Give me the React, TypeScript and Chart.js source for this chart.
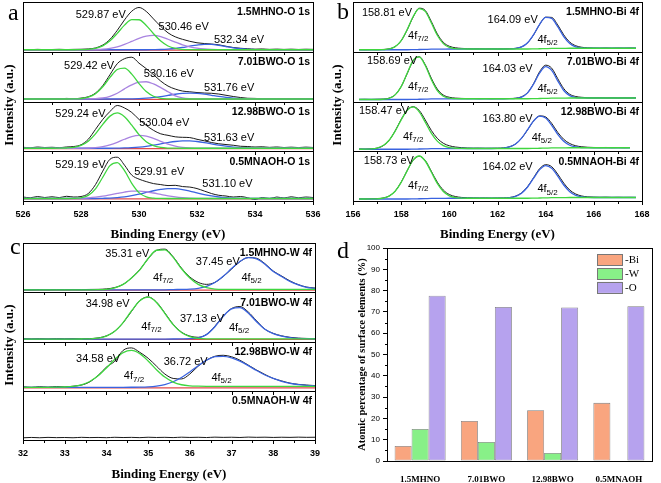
import React, { useEffect, useRef } from "react";
import { Chart, registerables } from "chart.js";

Chart.register(...registerables);

const SANS = "'Liberation Sans', Arial, Helvetica, sans-serif";
const SERIF = "'Liberation Serif', 'Times New Roman', Times, serif";

// ================= Panel a : O 1s =================
const aEnergy = [526,526.25,526.5,526.75,527,527.25,527.5,527.75,528,528.25,528.5,528.75,529,529.25,529.5,529.75,530,530.25,530.5,530.75,531,531.25,531.5,531.75,532,532.25,532.5,532.75,533,533.25,533.5,533.75,534,534.25,534.5,534.75,535,535.25,535.5,535.75,536];
const aBaseEnergy = [526, 536];
const aPeaks = [[529.87, 530.46, 532.34], [529.42, 530.16, 531.76], [529.24, 530.04, 531.63], [529.19, 529.91, 531.10]];

const aMhnoRaw = [4.6,4.2,4.8,4.3,4.5,4.9,4.4,4.8,5,5.6,7.6,13.5,25,43,64,81.5,89,81,66,51,38,30,25,21,18,16.5,15.5,14,11,8.5,7,6,5.2,5.6,4.8,5.3,4.7,5.2,4.6,5.1,4.8];
const aMhnoG = [4,4,4,4,4,4,4,4,4.2,4.8,6.9,11.9,21.9,37,53.5,64.6,64.3,52.9,36.3,21.4,11.6,6.7,4.8,4.2,4,4,4,4,4,4,4,4,4,4,4,4,4,4,4,4,4];
const aMhnoP = [4,4,4,4,4,4,4,4,4,4.2,4.5,5.2,6.9,9.9,14.7,20.8,27.1,31.6,33,30.5,25.1,19.5,14,10,7.2,5.5,4.6,4.2,4,4,4,4,4,4,4,4,4,4,4,4,4];
const aMhnoB = [4,4,4,4,4,4,4,4,4,4,4,4,4,4,4,4,4,4,4.2,4.5,5.2,6.5,8.6,11.2,13.5,14.9,14.7,12.9,10.4,8,6.1,4.9,4.4,4.1,4,4,4,4,4,4,4];
const aMhnoBase = [3.3, 3.3];

const a701Raw = [5.5,5,6,5.2,5.8,5.4,6.2,5.6,6.8,9.5,17,32,54,76,86,89,77,66,54,41,31,25,21,19.5,18,17,16.5,15,12.5,10,8,6.5,6.2,5.5,6,5.3,5.9,5.2,5.8,5.4,5.7];
const a701G = [5,5,5,5,5,5,5,5.2,5.9,8.6,15.7,29.6,48.5,64.3,67.2,55.1,36.1,19.9,10.5,6.5,5.3,5,5,5,5,5,5,5,5,5,5,5,5,5,5,5,5,5,5,5,5];
const a701P = [5,5,5,5,5,5,5,5,5.1,5.4,5.8,7.2,10.5,16.5,25.5,33.5,38.9,39.7,35.3,27.8,19.7,11.5,7.5,5.8,5.2,5,5,5,5,5,5,5,5,5,5,5,5,5,5,5,5];
const a701B = [5,5,5,5,5,5,5,5,5,5,5,5,5,5,5.2,5.4,5.8,6.7,8.1,10,12.3,14.6,16.3,17,16.4,14.8,12.5,10.2,8.2,6.8,5.9,5.4,5.2,5,5,5,5,5,5,5,5];
const a701Base = [4.2, 4.2];

const a1298Raw = [8,7,8.5,7.5,8,7.2,8.6,9.5,13,24,44,64,80,92,87,78,64,52,42,35,32,29,28,27.5,24,21,17.5,15,13.5,12,10,9.5,8.5,9,7.8,8.6,7.5,8.2,7.4,8.3,7.6];
const a1298G = [6,6,6,6,6,6.1,6.5,7.9,11.7,20.2,34.9,53.9,70.6,77,69.5,52.4,33.5,19.3,11.3,7.7,6.4,6.1,6,6,6,6,6,6,6,6,6,6,6,6,6,6,6,6,6,6,6];
const a1298P = [6,6,6,6,6,6,6,6,6.2,6.5,7.4,9.3,12.9,18,24.1,29.5,31.9,30.6,26,20,14.3,10.3,7.9,6.7,6.3,6,6,6,6,6,6,6,6,6,6,6,6,6,6,6,6];
const a1298B = [6,6,6,6,6,6,6,6,6,6,6,6,6,6.3,6.6,7.3,8.4,10,12.2,14.8,17.4,19.6,20.8,20.9,19.6,17.5,14.9,12.3,10.1,8.4,7.3,6.7,6.3,6.1,6,6,6,6,6,6,6];
const a1298Base = [5.2, 5.2];

const a05Raw = [8,6.5,9,7,8.5,6.8,9.5,8,9,15,33,60,84,88,72,52,44,39,35,33,31,31.5,29,28,25,20,15,11.5,10,8,9,6.5,3,7,5,8,6,8.5,6.5,8,7];
const a05G = [5,5,5,5,5,5,5,5.2,6.4,11.3,24.5,47.7,71.1,77.3,60.9,35.6,16.8,8.2,5.6,5.1,5,5,5,5,5,5,5,5,5,5,5,5,5,5,5,5,5,5,5,5,5];
const a05P = [5,5,5,5,5,5,5,5.3,5.7,6.4,7.7,9.7,12.4,15.3,18,19.7,19.9,18.6,16.1,13.2,10.4,8.2,6.7,5.8,5.4,5.2,5,5,5,5,5,5,5,5,5,5,5,5,5,5,5];
const a05B = [5,5,5,5,5,5,5,5,5,5,5,5.4,5.9,6.9,8.4,10.7,13.6,17.1,20.6,23.4,24.9,24.7,22.9,19.9,16.4,13,10.1,8,6.6,5.8,5.4,5.2,5,5,5,5,5,5,5,5,5];
const a05Base = [4.2, 4.2];

// ================= Panel b : Bi 4f =================
const bEnergy = [156.25,156.5,156.75,157,157.25,157.5,157.75,158,158.25,158.5,158.75,159,159.25,159.5,159.75,160,160.25,160.5,160.75,161,161.25,161.5,161.75,162,162.25,162.5,162.75,163,163.25,163.5,163.75,164,164.25,164.5,164.75,165,165.25,165.5,165.75,166,166.25,166.5,166.75,167,167.25,167.5,167.75];
const bPeaks = [[158.81, 164.09], [158.69, 164.03], [158.47, 163.80], [158.73, 164.02]];

const bMhnoRaw = [4.3,4.1,4.4,4.2,4.6,5.8,10.5,22,44,70,87.5,83,61,36,19,11,8,6.8,6.2,5.9,6,5.7,5.9,5.6,5.8,6,6.8,9.8,18,34,55,69.5,69,54,34,19.5,12,9,7.8,7.4,7.2,7.5,7.1,7.4,7.2,7.5,7.3];
const bMhnoG = [4,4,4,4,4.3,5.6,10.3,22.5,44.5,70.8,86.8,81.2,58.4,33.2,16.4,8.7,6.2,5.6,5.5,5.5,5.5,5.5,5.5,5.5,5.5,5.5,5.5,5.5,5.5,5.7,6,6.3,6.6,6.8,6.9,7,7,7,7,7,7,7,7,7,7,7,7];
const bMhnoB = [4,4,4,4,4,4,4,4,4,4.2,4.5,4.8,5.1,5.3,5.4,5.5,5.5,5.5,5.5,5.5,5.5,5.5,5.5,5.5,5.5,5.7,6.5,9.7,18.2,34.5,55.1,69.1,67,50.3,30.5,16.6,9.9,7.7,7.1,7,7,7,7,7,7,7,7];

const b701Raw = [4.2,4.4,4.1,4.5,4.8,6.8,13.5,30,56,82,90,74,47,25,13,8.5,6.8,6.2,5.9,6,5.7,5.9,5.6,5.8,5.7,6,6.6,9.5,18,36,60,73,67,46,26,14.5,10,8.4,7.6,7.3,7.5,7.2,7.4,7.1,7.3,7.2,7.4];
const b701G = [4,4,4,4,4.5,6.5,13.3,30,56.8,82.7,89.7,72.3,44.2,21.8,10.5,6.6,5.7,5.5,5.5,5.5,5.5,5.5,5.5,5.5,5.5,5.5,5.5,5.5,5.5,5.7,6,6.3,6.6,6.8,6.9,7,7,7,7,7,7,7,7,7,7,7,7];
const b701B = [4,4,4,4,4,4,4,4,4,4.2,4.5,4.8,5.1,5.3,5.4,5.5,5.5,5.5,5.5,5.5,5.5,5.5,5.5,5.5,5.5,5.6,6.2,8.9,17.3,35.1,57.5,70.2,62.5,41.5,22.1,11.7,8,7.1,7,7,7,7,7,7,7,7,7];

const b1298Raw = [4.5,4.3,4.8,6.3,11,22,41,64,83,89.5,82,63,42,26,16,11,8.5,7.2,6.5,6.2,6.3,6,6.1,6.2,6.8,9,14.5,26,43,61,71,69,56,38,24,15.5,11,9,8,7.6,7.4,7.6,7.3,7.5,7.2,7.4,null];
const b1298G = [4,4.1,4.7,6.5,11.4,22.1,40.3,63.1,82.5,89.1,79.3,58.4,36.5,20.3,11.2,7.3,6,5.6,5.5,5.5,5.5,5.5,5.5,5.5,5.5,5.5,5.5,5.5,5.5,5.7,6,6.3,6.6,6.8,6.9,7,7,7,7,7,7,7,7,7,7,7,null];
const b1298B = [4,4,4,4,4,4,4,4,4,4.2,4.5,4.8,5.1,5.3,5.4,5.5,5.5,5.5,5.5,5.5,5.5,5.5,5.5,5.7,6.4,8.8,14.7,26.4,43.5,61.1,70.7,66.9,52,34,20,12.1,8.6,7.4,7.1,7,7,7,7,7,7,7,null];

const b05Raw = [4.4,4.2,4.5,4.6,6,10,20,38,61,82,90,81.5,60,38,22,13,9,7.2,6.5,6.2,6,6.1,5.8,6,6.2,7,9.8,16.5,29,47,65,73,69,54,36,22,14,10,8.3,7.8,7.5,7.7,7.3,7.5,7.3,7.4,7.2];
const b05G = [4,4,4.1,4.4,5.8,9.9,19.7,37.5,61.1,82.5,90.5,80.4,58.3,35.3,19,10.4,6.9,5.8,5.5,5.5,5.5,5.5,5.5,5.5,5.5,5.5,5.5,5.5,5.5,5.7,6,6.3,6.6,6.8,6.9,7,7,7,7,7,7,7,7,7,7,7,7];
const b05B = [4,4,4,4,4,4,4,4,4,4.2,4.5,4.8,5.1,5.3,5.4,5.5,5.5,5.5,5.5,5.5,5.5,5.5,5.5,5.5,5.8,6.6,9.2,15.8,28.2,45.9,63.1,71.3,65.8,50,32.2,18.8,11.4,8.3,7.3,7,7,7,7,7,7,7,7];

// ================= Panel c : W 4f =================
const cEnergy = [32,32.2,32.4,32.6,32.8,33,33.2,33.4,33.6,33.8,34,34.2,34.4,34.6,34.8,35,35.2,35.4,35.6,35.8,36,36.2,36.4,36.6,36.8,37,37.2,37.4,37.6,37.8,38,38.2,38.4,38.6,38.8,39];
const cBaseEnergy = [32, 39];
const cPeaks = [[35.31, 37.45], [34.98, 37.13], [34.58, 36.72]];

const cMhnoRaw = [5.3,5.1,5.4,5.2,5.5,5.3,5.6,5.4,5.7,5.9,6.8,9.5,16,29,46,68,85,87.5,72,49,31,20,16,20,32,47,62,70.5,69,58,43,33,23,15.5,10.5,8.5];
const cMhnoG = [5,5,5,5,5,5,5,5,5,5.15,5.7,9,16,29,45.3,68.6,85.3,86.2,70.7,47.7,29,16,9.5,6.5,5.8,6,6,6,6,6,6,6,6,6,6,6];
const cMhnoB = [5,5,5,5,5,5,5,5,5,5,5,5,5,5,5,5,5,5,5.5,5.7,6.3,8,12,19.8,32.4,48,62.5,70.3,67.8,57,42,32,22,15,10,8];
const cMhnoBase = [4.3, 4.3];

const c701Raw = [5.6,5.2,5.5,5.1,5.6,5.3,5.5,5.4,5.9,7.2,11.5,21,38,61,83,90.5,80,58,35,19,11,8.5,14.5,31,52,67,71,60,42,25,16.5,11.5,8.5,6.8,6.2,5.8];
const c701G = [5,5,5,5,5,5,5,5.1,5.4,6.8,10.9,20.7,38.4,62,82.7,90,79.3,57.1,34.3,18.2,9.8,6.4,5.4,5.5,5.5,5.5,5.5,5.5,5.5,5.5,5.5,5.5,5.5,5.5,5.5,5.5];
const c701B = [5,5,5,5,5,5,5,5,5,5,5,5,5,5,5,5,5,5,5.1,5.3,5.8,7.5,14,30,51,66.1,68.6,57.8,40.2,25,16,11,8,6.5,5.8,5.5];
const c701Base = [4.3, 4.3];

const c1298Raw = [8,7,8.2,7.4,8.5,7.8,9.2,11.5,18,31,48,60,82,87,78,66,50,34,25,24,34,50,62,70,72,69,62,52,42,33,25,20,15.5,13,11.5,10.5];
const c1298G = [7,7,7,7,7.2,7.6,8.9,12.1,18.8,30.3,46.3,63.8,77.5,82,75.3,60.4,42.8,27.8,17.6,12.2,10,9.3,9,9,9,9,9,9,9,9,9,9,9,9,9,9];
const c1298B = [7,7,7,7,7,7,7,7,7,7,7,7,7,7.1,7.3,7.9,9.4,12.5,18.3,26.9,38.2,50.8,62.1,69.3,70,67,60,51,41,32,25,19,15,12.5,11,10];
const c1298Base = [6, 6];

const c05Raw = [4.5,5.2,4.6,5.3,4.8,5.1,4.6,5.4,4.9,5.2,4.7,5.5,5,5.3,4.8,5.6,5.1,5.4,4.9,5.7,5.2,5.5,5,5.8,5.3,5.6,5.1,5.9,5.4,5.7,5.2,5.6,5.3,5.8,5.4,5.6];

// ================= Panel d : surface composition =================
const dCategories = ["1.5MHNO", "7.01BWO", "12.98BWO", "0.5MNAOH"];
const dBi = [7.1, 18.8, 23.8, 27.3];
const dW = [15.0, 8.9, 3.8, 0];
const dO = [77.6, 72.3, 72.1, 72.7];

// ---------------- styles ----------------
const BLACK = "#1a1a1a";
const GREEN = "#3fd63f";
const PURPLE = "#a883e0";
const BLUE = "#3a63e0";
const RED = "#e04a4a";

type Line = { xs: number[]; ys: (number | null)[]; color: string; width: number; order: number };
type Sub = {
  id: string;
  title: string;
  lines: Line[];
  peaks: number[];
  peakPos: number[][];
  orbs?: string[];
  orbPos?: number[][];
};
type Panel = {
  letter: string;
  letterPos: [number, number];
  yTitlePos: [number, number];
  min: number;
  max: number;
  step: number;
  padding: { left: number; right: number; top: number; bottom: number };
  titlePad: number;
  subs: Sub[];
};

const raw = (xs: number[], ys: (number | null)[]): Line => ({ xs, ys, color: BLACK, width: 1, order: 5 });
const fit = (xs: number[], ys: (number | null)[], color: string, order: number): Line => ({ xs, ys, color, width: 1.3, order });
const base = (xs: number[], ys: number[]): Line => ({ xs, ys, color: RED, width: 1.2, order: 6 });

const panelA: Panel = {
  letter: "a",
  letterPos: [8, 20],
  yTitlePos: [10, 105],
  min: 526,
  max: 536,
  step: 2,
  padding: { left: 23, right: 9, top: 2, bottom: 2.2 },
  titlePad: 7.2,
  subs: [
    { id: "y0", title: "1.5MHNO-O 1s", peaks: aPeaks[0], peakPos: [[528.68, 73], [531.54, 49.8], [533.45, 22.7]],
      lines: [base(aBaseEnergy, aMhnoBase), raw(aEnergy, aMhnoRaw), fit(aEnergy, aMhnoB, BLUE, 3), fit(aEnergy, aMhnoP, PURPLE, 2), fit(aEnergy, aMhnoG, GREEN, 1)] },
    { id: "y1", title: "7.01BWO-O 1s", peaks: aPeaks[1], peakPos: [[528.28, 70.5], [531.03, 55], [533.11, 28]],
      lines: [base(aBaseEnergy, a701Base), raw(aEnergy, a701Raw), fit(aEnergy, a701B, BLUE, 3), fit(aEnergy, a701P, PURPLE, 2), fit(aEnergy, a701G, GREEN, 1)] },
    { id: "y2", title: "12.98BWO-O 1s", peaks: aPeaks[2], peakPos: [[527.98, 75.8], [530.87, 56.5], [533.11, 27.5]],
      lines: [base(aBaseEnergy, a1298Base), raw(aEnergy, a1298Raw), fit(aEnergy, a1298B, BLUE, 3), fit(aEnergy, a1298P, PURPLE, 2), fit(aEnergy, a1298G, GREEN, 1)] },
    { id: "y3", title: "0.5MNAOH-O 1s", peaks: aPeaks[3], peakPos: [[527.98, 71.5], [530.7, 58], [533.05, 34.8]],
      lines: [base(aBaseEnergy, a05Base), raw(aEnergy, a05Raw), fit(aEnergy, a05B, BLUE, 3), fit(aEnergy, a05P, PURPLE, 2), fit(aEnergy, a05G, GREEN, 1)] },
  ],
};

const panelB: Panel = {
  letter: "b",
  letterPos: [7, 19],
  yTitlePos: [8, 105],
  min: 156,
  max: 168,
  step: 2,
  padding: { left: 23, right: 11, top: 2, bottom: 2.2 },
  titlePad: 7.2,
  subs: [
    { id: "y0", title: "1.5MHNO-Bi 4f", peaks: bPeaks[0], peakPos: [[157.41, 78.7], [162.63, 63.3]], orbs: ["7/2", "5/2"], orbPos: [[158.71, 32.4], [164.08, 24.6]],
      lines: [raw(bEnergy, bMhnoRaw), fit(bEnergy, bMhnoB, BLUE, 2), fit(bEnergy, bMhnoG, GREEN, 1)] },
    { id: "y1", title: "7.01BWO-Bi 4f", peaks: bPeaks[1], peakPos: [[157.62, 82], [162.42, 64.7]], orbs: ["7/2", "5/2"], orbPos: [[158.71, 30], [164.08, 26]],
      lines: [raw(bEnergy, b701Raw), fit(bEnergy, b701B, BLUE, 2), fit(bEnergy, b701G, GREEN, 1)] },
    { id: "y2", title: "12.98BWO-Bi 4f", peaks: bPeaks[2], peakPos: [[157.29, 81.6], [162.42, 64.3]], orbs: ["7/2", "5/2"], orbPos: [[158.5, 29.5], [163.84, 27.5]],
      lines: [raw(bEnergy, b1298Raw), fit(bEnergy, b1298B, BLUE, 2), fit(bEnergy, b1298G, GREEN, 1)] },
    { id: "y3", title: "0.5MNAOH-Bi 4f", peaks: bPeaks[3], peakPos: [[157.49, 81.2], [162.42, 67.6]], orbs: ["7/2", "5/2"], orbPos: [[158.71, 31], [164.08, 23.2]],
      lines: [raw(bEnergy, b05Raw), fit(bEnergy, b05B, BLUE, 2), fit(bEnergy, b05G, GREEN, 1)] },
  ],
};

const panelC: Panel = {
  letter: "c",
  letterPos: [10, 15],
  yTitlePos: [10, 106],
  min: 32,
  max: 39,
  step: 1,
  padding: { left: 23, right: 7, top: 4, bottom: 0.2 },
  titlePad: 8.2,
  subs: [
    { id: "y0", title: "1.5MHNO-W 4f", peaks: cPeaks[0], peakPos: [[34.5, 78.5], [36.67, 61]], orbs: ["7/2", "5/2"], orbPos: [[35.36, 29.8], [37.48, 29.8]],
      lines: [base(cBaseEnergy, cMhnoBase), raw(cEnergy, cMhnoRaw), fit(cEnergy, cMhnoB, BLUE, 2), fit(cEnergy, cMhnoG, GREEN, 1)] },
    { id: "y1", title: "7.01BWO-W 4f", peaks: cPeaks[1], peakPos: [[34.03, 75.6], [36.29, 46.3]], orbs: ["7/2", "5/2"], orbPos: [[35.08, 30.2], [37.18, 28.3]],
      lines: [base(cBaseEnergy, c701Base), raw(cEnergy, c701Raw), fit(cEnergy, c701B, BLUE, 2), fit(cEnergy, c701G, GREEN, 1)] },
    { id: "y2", title: "12.98BWO-W 4f", peaks: cPeaks[2], peakPos: [[33.8, 64.4], [35.9, 58.5]], orbs: ["7/2", "5/2"], orbPos: [[34.66, 29.3], [36.76, 26.8]],
      lines: [base(cBaseEnergy, c1298Base), raw(cEnergy, c1298Raw), fit(cEnergy, c1298B, BLUE, 2), fit(cEnergy, c1298G, GREEN, 1)] },
    { id: "y3", title: "0.5MNAOH-W 4f", peaks: [], peakPos: [],
      lines: [raw(cEnergy, c05Raw)] },
  ],
};

function xpsDecor(p: Panel) {
  return {
    id: "xpsDecor",
    afterDraw(chart: any) {
      const ctx: CanvasRenderingContext2D = chart.ctx;
      const area = chart.chartArea;
      const xs = chart.scales.x;
      const majors: number[] = xs.ticks.map((t: any) => t.value);
      const minors: number[] = [];
      for (let i = 0; i < majors.length - 1; i++) minors.push((majors[i] + majors[i + 1]) / 2);
      ctx.save();
      ctx.strokeStyle = "#000";
      ctx.fillStyle = "#000";
      ctx.lineWidth = 1;
      const l = Math.round(area.left) + 0.5;
      const r = Math.round(area.right) + 0.5;
      p.subs.forEach((s) => {
        const ys = chart.scales[s.id];
        const top = Math.round(ys.top) + 0.5;
        const bot = Math.round(ys.bottom) + 0.5;
        ctx.strokeRect(l, top, r - l, bot - top);
        ctx.beginPath();
        majors.forEach((v) => {
          const px = Math.round(xs.getPixelForValue(v)) + 0.5;
          ctx.moveTo(px, bot);
          ctx.lineTo(px, bot + 3.5);
        });
        minors.forEach((v) => {
          const px = Math.round(xs.getPixelForValue(v)) + 0.5;
          ctx.moveTo(px, bot);
          ctx.lineTo(px, bot + 2.5);
        });
        ctx.stroke();
        ctx.font = `bold 10.5px ${SANS}`;
        ctx.textAlign = "right";
        ctx.textBaseline = "middle";
        ctx.fillText(s.title, area.right - 3, ys.top + 10.5);
        ctx.font = `11px ${SANS}`;
        ctx.textAlign = "center";
        s.peaks.forEach((e, i) => {
          const [x, y] = s.peakPos[i];
          ctx.fillText(`${e.toFixed(2)} eV`, xs.getPixelForValue(x), ys.getPixelForValue(y));
        });
        (s.orbs || []).forEach((o, i) => {
          const [x, y] = (s.orbPos as number[][])[i];
          const px = xs.getPixelForValue(x);
          const py = ys.getPixelForValue(y);
          ctx.font = `11px ${SANS}`;
          const w1 = ctx.measureText("4f").width;
          ctx.font = `8px ${SANS}`;
          const w2 = ctx.measureText(o).width;
          const x0 = px - (w1 + w2) / 2;
          ctx.textAlign = "left";
          ctx.font = `11px ${SANS}`;
          ctx.fillText("4f", x0, py);
          ctx.font = `8px ${SANS}`;
          ctx.fillText(o, x0 + w1, py + 3);
          ctx.textAlign = "center";
        });
      });
      ctx.font = `24px ${SERIF}`;
      ctx.textAlign = "left";
      ctx.textBaseline = "alphabetic";
      ctx.fillText(p.letter, p.letterPos[0], p.letterPos[1]);
      ctx.translate(p.yTitlePos[0], p.yTitlePos[1]);
      ctx.rotate(-Math.PI / 2);
      ctx.font = `bold 13px ${SERIF}`;
      ctx.textAlign = "center";
      ctx.textBaseline = "middle";
      ctx.fillText("Intensity (a.u.)", 0, 0);
      ctx.restore();
    },
  };
}

function xpsConfig(p: Panel): any {
  const datasets: any[] = [];
  p.subs.forEach((s) =>
    s.lines.forEach((ln) =>
      datasets.push({
        data: ln.xs.map((x, i) => ({ x, y: ln.ys[i] })),
        borderColor: ln.color,
        borderWidth: ln.width,
        pointRadius: 0,
        pointHoverRadius: 0,
        fill: false,
        cubicInterpolationMode: "monotone",
        xAxisID: "x",
        yAxisID: s.id,
        order: ln.order,
      })
    )
  );
  const scales: any = {
    x: {
      type: "linear",
      position: "bottom",
      min: p.min,
      max: p.max,
      grid: { display: false },
      border: { display: false },
      ticks: {
        stepSize: p.step,
        autoSkip: false,
        maxRotation: 0,
        padding: 1,
        color: "#000",
        font: { family: SANS, size: 9, weight: "bold", lineHeight: 1 },
      },
      title: {
        display: true,
        text: "Binding Energy (eV)",
        color: "#000",
        font: { family: SERIF, size: 13, weight: "bold", lineHeight: 1.2 },
        padding: { top: p.titlePad, bottom: 0 },
      },
    },
  };
  p.subs.forEach((s, k) => {
    scales[s.id] = {
      type: "linear",
      position: "right",
      stack: "sub",
      stackWeight: 1,
      weight: k,
      min: 0,
      max: 100,
      grid: { display: false },
      border: { display: false },
      ticks: { display: false },
    };
  });
  return {
    type: "line",
    data: { datasets },
    options: {
      animation: false,
      responsive: false,
      events: [],
      layout: { padding: p.padding },
      plugins: { legend: { display: false }, tooltip: { enabled: false } },
      scales,
    },
    plugins: [xpsDecor(p)],
  };
}

const barDecor = {
  id: "barDecor",
  afterDraw(chart: any) {
    const ctx: CanvasRenderingContext2D = chart.ctx;
    const a = chart.chartArea;
    const y = chart.scales.y;
    ctx.save();
    ctx.strokeStyle = "#000";
    ctx.lineWidth = 1;
    const l = Math.round(a.left) + 0.5;
    const t = Math.round(a.top) + 0.5;
    ctx.strokeRect(l, t, Math.round(a.right - a.left), Math.round(a.bottom - a.top));
    const majors: number[] = y.ticks.map((tk: any) => tk.value);
    ctx.beginPath();
    for (let i = 0; i < majors.length - 1; i++) {
      const py = Math.round(y.getPixelForValue((majors[i] + majors[i + 1]) / 2)) + 0.5;
      ctx.moveTo(l, py);
      ctx.lineTo(l - 2.5, py);
    }
    ctx.stroke();
    const offs = [6.3, 20.3, 33.9];
    chart.data.datasets.forEach((ds: any, i: number) => {
      const sx = a.left + 210;
      const sy = a.top + offs[i];
      ctx.fillStyle = ds.backgroundColor;
      ctx.fillRect(sx, sy, 25, 11);
      ctx.strokeStyle = "#777";
      ctx.strokeRect(Math.round(sx) + 0.5, Math.round(sy) + 0.5, 25, 11);
      ctx.fillStyle = "#000";
      ctx.font = `11px ${SERIF}`;
      ctx.textAlign = "left";
      ctx.textBaseline = "middle";
      ctx.fillText(ds.label, sx + 28, sy + 6);
    });
    ctx.fillStyle = "#000";
    ctx.font = `24px ${SERIF}`;
    ctx.textAlign = "left";
    ctx.textBaseline = "alphabetic";
    ctx.fillText("d", 7, 18);
    ctx.restore();
  },
};

function barConfig(): any {
  const common = { borderColor: "#7c7c7c", borderWidth: 0.8, borderSkipped: false };
  return {
    type: "bar",
    data: {
      labels: dCategories,
      datasets: [
        { label: "-Bi", data: dBi, backgroundColor: "#f9a57f", ...common },
        { label: "-W", data: dW, backgroundColor: "#88f088", ...common },
        { label: "-O", data: dO, backgroundColor: "#b6a2ee", ...common },
      ],
    },
    options: {
      animation: false,
      responsive: false,
      events: [],
      layout: { padding: { left: 20, right: 9, top: 8, bottom: 0 } },
      plugins: { legend: { display: false }, tooltip: { enabled: false } },
      datasets: { bar: { categoryPercentage: 0.77, barPercentage: 1 } },
      scales: {
        x: {
          grid: { display: false },
          border: { display: false },
          ticks: { color: "#000", padding: 6.5, font: { family: SERIF, size: 9, weight: "bold", lineHeight: 1 } },
          afterFit: (s: any) => {
            s.height = 22;
          },
        },
        y: {
          min: 0,
          max: 100,
          ticks: { stepSize: 10, color: "#000", padding: 3, font: { family: SANS, size: 8, lineHeight: 1 } },
          grid: { display: true, drawOnChartArea: false, drawTicks: true, tickLength: 4, color: "#000" },
          border: { display: false },
          title: {
            display: true,
            text: "Atomic percentage of surface elements (%)",
            color: "#000",
            font: { family: SERIF, size: 10.5, weight: "bold", lineHeight: 1.2 },
            padding: { top: 6, bottom: 0 },
          },
          afterFit: (s: any) => {
            s.width = 37;
          },
        },
      },
    },
    plugins: [barDecor],
  };
}

export default function App() {
  const aRef = useRef<HTMLCanvasElement>(null);
  const bRef = useRef<HTMLCanvasElement>(null);
  const cRef = useRef<HTMLCanvasElement>(null);
  const dRef = useRef<HTMLCanvasElement>(null);

  useEffect(() => {
    const charts = [
      new Chart(aRef.current as HTMLCanvasElement, xpsConfig(panelA)),
      new Chart(bRef.current as HTMLCanvasElement, xpsConfig(panelB)),
      new Chart(cRef.current as HTMLCanvasElement, xpsConfig(panelC)),
      new Chart(dRef.current as HTMLCanvasElement, barConfig()),
    ];
    return () => charts.forEach((c) => c.destroy());
  }, []);

  return (
    <div style={{ position: "absolute", left: 0, top: 0, width: 661, height: 483, background: "#fff", overflow: "hidden" }}>
      <canvas ref={aRef} width={330} height={245} style={{ position: "absolute", left: 0, top: 0 }} />
      <canvas ref={bRef} width={331} height={245} style={{ position: "absolute", left: 330, top: 0 }} />
      <canvas ref={cRef} width={330} height={244} style={{ position: "absolute", left: 0, top: 239 }} />
      <canvas ref={dRef} width={331} height={243} style={{ position: "absolute", left: 330, top: 240 }} />
    </div>
  );
}
